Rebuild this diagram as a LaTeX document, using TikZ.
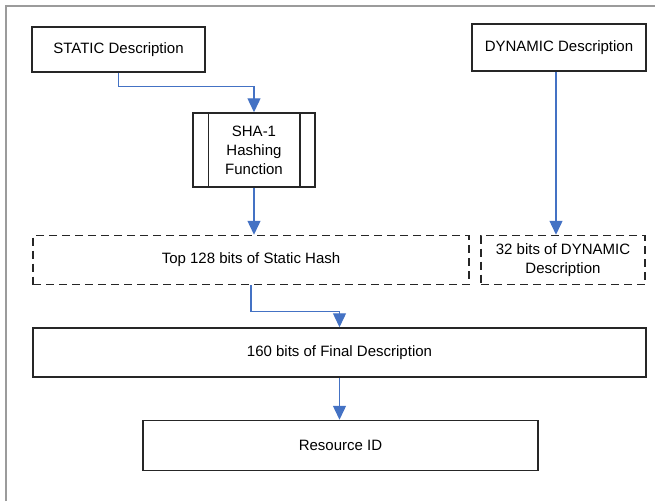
\documentclass[tikz,border=0pt]{standalone}
\usepackage{fontspec}
\setmainfont{Liberation Sans}
\usetikzlibrary{arrows.meta}
\definecolor{flowblue}{RGB}{68,114,196}
\definecolor{framegray}{RGB}{155,155,155}

\begin{document}
\begin{tikzpicture}[
    x=1pt, y=-1pt,
    font=\fontsize{15}{19}\selectfont,
    descbox/.style={rectangle, draw=black!85, line width=1.5pt, inner sep=2pt, align=center},
    bitsbox/.style={descbox, dash pattern=on 8pt off 5pt},
    flow/.style={draw=flowblue, line width=1.4pt, -{Triangle[width=13pt,length=14pt]}}
]

% Frame
\useasboundingbox (0,0) rectangle (655,501);
\draw[framegray, line width=1.5pt] (6,501) -- (6,6) -- (655,6);

% Descriptions
\node[descbox, minimum width=173pt, minimum height=45pt] (static) at (118.5,49.5) {STATIC Description};
\node[descbox, minimum width=174pt, minimum height=47pt] (dynamic) at (559,47.5) {DYNAMIC Description};

% Hashing
\node[descbox, minimum width=122pt, minimum height=74pt] (sha) at (254,150) {SHA-1\\Hashing\\Function};
\draw[black!85, line width=1.5pt] ([xshift=16pt]sha.north west) -- ([xshift=16pt]sha.south west);
\draw[black!85, line width=1.5pt] ([xshift=-16pt]sha.north east) -- ([xshift=-16pt]sha.south east);

% Bits
\node[bitsbox, minimum width=436pt, minimum height=49pt] (top128) at (251,260) {Top 128 bits of Static Hash};
\node[bitsbox, minimum width=164pt, minimum height=49pt] (dyn32) at (563,260) {32 bits of DYNAMIC\\Description};

% Final
\node[descbox, minimum width=613pt, minimum height=49pt] (final) at (339.5,352.5) {160 bits of Final Description};
\node[descbox, minimum width=395pt, minimum height=50pt] (resource) at (340.5,445.5) {Resource ID};

% Arrows
\draw[flow] (static.south) -- ++(0,14) -| (sha.north);
\draw[flow] (sha.south) -- (sha.south |- top128.north);
\draw[flow] ([xshift=-3pt]dynamic.south) -- ([xshift=-3pt]dynamic.south |- dyn32.north);
\draw[flow] (top128.south) -- ++(0,26) -| (final.north);
\draw[flow] (final.south) -- (final.south |- resource.north);

\end{tikzpicture}
\end{document}
